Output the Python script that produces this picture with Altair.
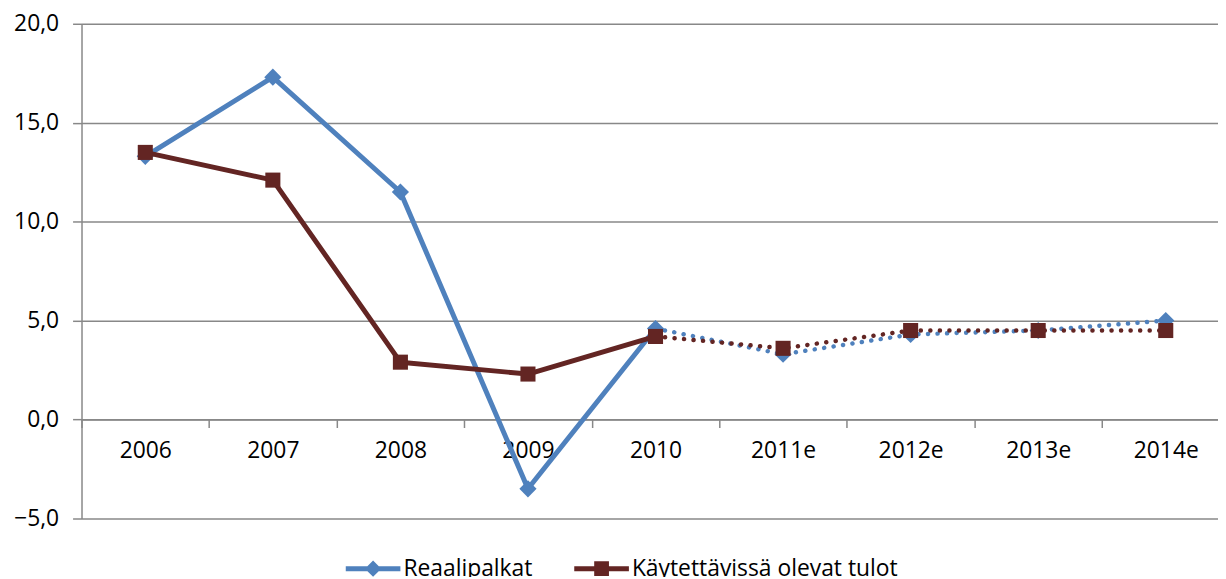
import altair as alt
import pandas as pd

years = ["2006", "2007", "2008", "2009", "2010", "2011e", "2012e", "2013e", "2014e"]
reaalipalkat = [13.3, 17.3, 11.5, -3.5, 4.6, 3.3, 4.3, 4.5, 5.0]
kaytettavissa = [13.5, 12.1, 2.9, 2.3, 4.2, 3.6, 4.5, 4.5, 4.5]
series_names = ["Reaalipalkat", "Käytettävissä olevat tulot"]
colors = ["#4F81BD", "#632523"]
actual_years = years[:5]
forecast_years = years[4:]

rows = []
for name, vals in zip(series_names, [reaalipalkat, kaytettavissa]):
    for y, v in zip(years, vals):
        rows.append({"year": y, "series": name, "value": v})
df = pd.DataFrame(rows)

FONT = "Open Sans"
xenc = alt.X(
    "year:N", sort=years, bandPosition=0.5,
    scale=alt.Scale(type="band", domain=years, paddingInner=0, paddingOuter=0),
    axis=alt.Axis(title=None, offset=-99.6, tickBand="extent", labelAngle=0,
                  domainColor="#888888", domainWidth=1.5, tickColor="#888888", tickWidth=1.5,
                  tickSize=8, labelFont=FONT, labelFontSize=23, labelColor="black",
                  labelPadding=12, grid=False),
)
yenc = alt.Y(
    "value:Q",
    scale=alt.Scale(domain=[-5, 20], nice=False, zero=False),
    axis=alt.Axis(title=None, values=[-5, 0, 5, 10, 15, 20],
                  labelExpr="replace(format(datum.value, '.1f'), '.', ',')",
                  domainColor="#888888", domainWidth=1.5, tickColor="#888888", tickWidth=1.5,
                  tickSize=9, gridColor="#888888", gridWidth=1.5,
                  labelFont=FONT, labelFontSize=23, labelColor="black", labelPadding=14),
)

shapes = [
    "M-1,-0.09L1,-0.09L1,0.09L-1,0.09Z M-0.3,0L0,-0.3L0.3,0L0,0.3Z",
    "M-1,-0.09L1,-0.09L1,0.09L-1,0.09Z M-0.27,-0.27L0.27,-0.27L0.27,0.27L-0.27,0.27Z",
]
legend_x = [266, 496]
mark_shapes = ["diamond", "square"]
mark_sizes = [300, 230]

layers = []
for i, name in enumerate(series_names):
    sdf = df[df.series == name]
    cscale = alt.Scale(domain=[name], range=[colors[i]])
    solid = alt.Chart(sdf[sdf.year.isin(actual_years)]).mark_line(
        strokeWidth=5, strokeCap="round", strokeJoin="round"
    ).encode(x=xenc, y=yenc, color=alt.Color("series:N", scale=cscale, legend=None))
    dotted = alt.Chart(sdf[sdf.year.isin(forecast_years)]).mark_line(
        strokeWidth=4.5, strokeCap="round", strokeDash=[0.1, 9.5]
    ).encode(x=xenc, y=yenc, color=alt.Color("series:N", scale=cscale, legend=None))
    pts = alt.Chart(sdf).mark_point(
        shape=mark_shapes[i], filled=True, size=mark_sizes[i], opacity=1
    ).encode(
        x=xenc, y=yenc,
        color=alt.Color("series:N", scale=cscale, legend=alt.Legend(
            title=None, orient="none", legendX=legend_x[i], legendY=521,
            symbolType=shapes[i], symbolSize=3025, symbolStrokeWidth=0,
            labelFont=FONT, labelFontSize=23, labelColor="black", labelOffset=3,
            labelLimit=500, padding=0,
        )),
    )
    layers += [solid, dotted, pts]

chart = alt.layer(*layers).resolve_scale(color="independent").properties(
    width=1155.6, height=498,
    autosize=alt.AutoSizeParams(type="none"),
    padding={"left": 74, "top": 14, "right": -11.6, "bottom": 57},
).configure_view(stroke=None)

chart.save("out.html", embed_options={"renderer": "svg", "actions": False})
